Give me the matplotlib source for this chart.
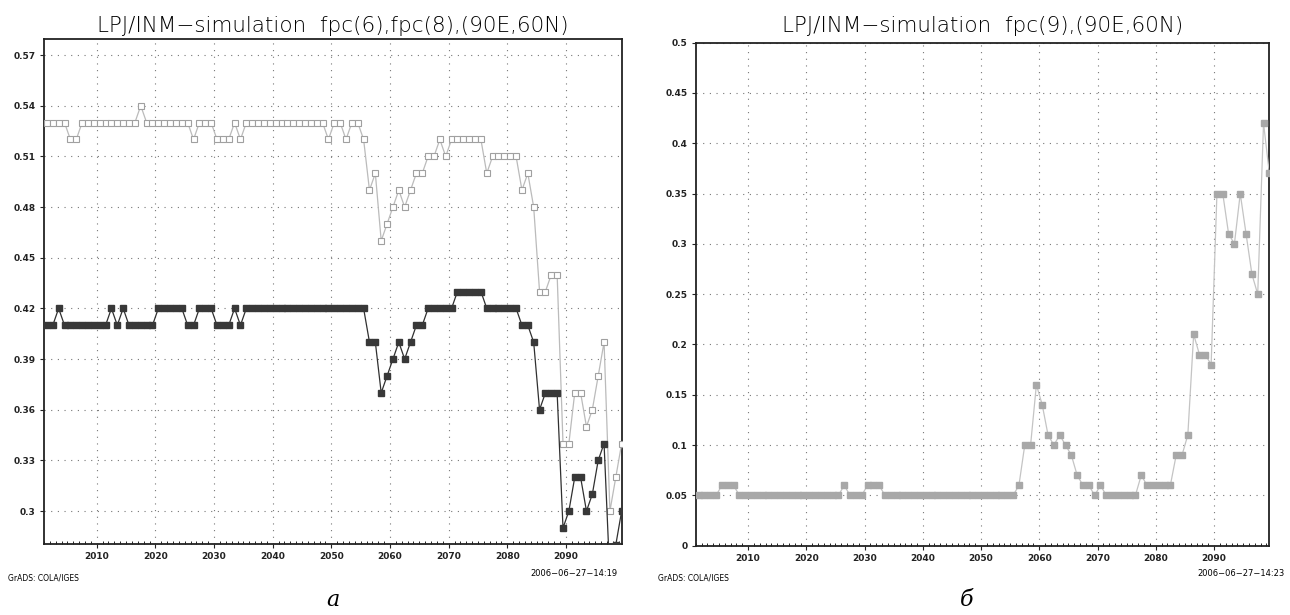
import numpy as np
import matplotlib
matplotlib.use("Agg")
import matplotlib.pyplot as plt

# years of the simulation (points are stamped at mid-year)
years = np.arange(2001, 2100)

# panel a: fpc(6) (open light squares) and fpc(8) (dark filled squares)
fpc6 = [0.53, 0.53, 0.53, 0.53, 0.52, 0.52, 0.53, 0.53, 0.53, 0.53,
        0.53, 0.53, 0.53, 0.53, 0.53, 0.53, 0.54, 0.53, 0.53, 0.53,
        0.53, 0.53, 0.53, 0.53, 0.53, 0.52, 0.53, 0.53, 0.53, 0.52,
        0.52, 0.52, 0.53, 0.52, 0.53, 0.53, 0.53, 0.53, 0.53, 0.53,
        0.53, 0.53, 0.53, 0.53, 0.53, 0.53, 0.53, 0.53, 0.52, 0.53,
        0.53, 0.52, 0.53, 0.53, 0.52, 0.49, 0.50, 0.46, 0.47, 0.48,
        0.49, 0.48, 0.49, 0.50, 0.50, 0.51, 0.51, 0.52, 0.51, 0.52,
        0.52, 0.52, 0.52, 0.52, 0.52, 0.50, 0.51, 0.51, 0.51, 0.51,
        0.51, 0.49, 0.50, 0.48, 0.43, 0.43, 0.44, 0.44, 0.34, 0.34,
        0.37, 0.37, 0.35, 0.36, 0.38, 0.40, 0.30, 0.32, 0.34]
fpc8 = [0.41, 0.41, 0.42, 0.41, 0.41, 0.41, 0.41, 0.41, 0.41, 0.41,
        0.41, 0.42, 0.41, 0.42, 0.41, 0.41, 0.41, 0.41, 0.41, 0.42,
        0.42, 0.42, 0.42, 0.42, 0.41, 0.41, 0.42, 0.42, 0.42, 0.41,
        0.41, 0.41, 0.42, 0.41, 0.42, 0.42, 0.42, 0.42, 0.42, 0.42,
        0.42, 0.42, 0.42, 0.42, 0.42, 0.42, 0.42, 0.42, 0.42, 0.42,
        0.42, 0.42, 0.42, 0.42, 0.42, 0.40, 0.40, 0.37, 0.38, 0.39,
        0.40, 0.39, 0.40, 0.41, 0.41, 0.42, 0.42, 0.42, 0.42, 0.42,
        0.43, 0.43, 0.43, 0.43, 0.43, 0.42, 0.42, 0.42, 0.42, 0.42,
        0.42, 0.41, 0.41, 0.40, 0.36, 0.37, 0.37, 0.37, 0.29, 0.30,
        0.32, 0.32, 0.30, 0.31, 0.33, 0.34, 0.26, 0.28, 0.30]

# panel b: fpc(9)
fpc9 = [0.05, 0.05, 0.05, 0.05, 0.06, 0.06, 0.06, 0.05, 0.05, 0.05,
        0.05, 0.05, 0.05, 0.05, 0.05, 0.05, 0.05, 0.05, 0.05, 0.05,
        0.05, 0.05, 0.05, 0.05, 0.05, 0.06, 0.05, 0.05, 0.05, 0.06,
        0.06, 0.06, 0.05, 0.05, 0.05, 0.05, 0.05, 0.05, 0.05, 0.05,
        0.05, 0.05, 0.05, 0.05, 0.05, 0.05, 0.05, 0.05, 0.05, 0.05,
        0.05, 0.05, 0.05, 0.05, 0.05, 0.06, 0.10, 0.10, 0.16, 0.14,
        0.11, 0.10, 0.11, 0.10, 0.09, 0.07, 0.06, 0.06, 0.05, 0.06,
        0.05, 0.05, 0.05, 0.05, 0.05, 0.05, 0.07, 0.06, 0.06, 0.06,
        0.06, 0.06, 0.09, 0.09, 0.11, 0.21, 0.19, 0.19, 0.18, 0.35,
        0.35, 0.31, 0.30, 0.35, 0.31, 0.27, 0.25, 0.42, 0.37]

xticks = [2010, 2020, 2030, 2040, 2050, 2060, 2070, 2080, 2090]
yticks_a = [0.3, 0.33, 0.36, 0.39, 0.42, 0.45, 0.48, 0.51, 0.54, 0.57]
ylabels_a = ["0.3", "0.33", "0.36", "0.39", "0.42", "0.45", "0.48", "0.51", "0.54", "0.57"]
yticks_b = [0, 0.05, 0.1, 0.15, 0.2, 0.25, 0.3, 0.35, 0.4, 0.45, 0.5]
ylabels_b = ["0", "0.05", "0.1", "0.15", "0.2", "0.25", "0.3", "0.35", "0.4", "0.45", "0.5"]

t = years + 0.5

fig = plt.figure(figsize=(12.9, 6.15), dpi=100)
ax_a = fig.add_axes([0.0341, 0.1154, 0.4478, 0.8212])
ax_b = fig.add_axes([0.5393, 0.1127, 0.4447, 0.8179])


def style_axes(ax, yticks, ylabels, ylim):
    ax.set_xlim(2001.4, 2099.5)
    ax.set_ylim(*ylim)
    ax.set_xticks(xticks)
    ax.set_xticklabels([str(x) for x in xticks], fontweight="bold")
    ax.set_yticks(yticks)
    ax.set_yticklabels(ylabels, fontweight="bold")
    ax.set_xticks(years, minor=True)
    ax.tick_params(axis="both", which="major", labelsize=6.5, length=3,
                   direction="out", pad=3, colors="#222222")
    ax.tick_params(axis="x", which="minor", length=2, direction="in")
    ax.grid(True, which="major", color="#777777", linestyle=(0, (1, 5)), linewidth=0.8)
    for s in ax.spines.values():
        s.set_linewidth(1.3)
        s.set_color("#222222")


style_axes(ax_a, yticks_a, ylabels_a, (0.2805, 0.5795))
ax_a.plot(t, fpc6, color="#bbbbbb", linewidth=0.9, marker="s", markersize=4.6,
          markerfacecolor="white", markeredgecolor="#a0a0a0", markeredgewidth=0.8, zorder=3)
ax_a.plot(t, fpc8, color="#303030", linewidth=0.9, marker="s", markersize=3.8,
          markerfacecolor="#383838", markeredgecolor="#383838", zorder=3)
ax_a.set_title("LPJ/INM\u2212simulation  fpc(6),fpc(8),(90E,60N)",
               fontsize=15.5, fontweight="light", pad=5)

style_axes(ax_b, yticks_b, ylabels_b, (0, 0.5))
ax_b.plot(t, fpc9, color="#c4c4c4", linewidth=0.9, marker="s", markersize=3.8,
          markerfacecolor="#a8a8a8", markeredgecolor="#a8a8a8", zorder=3)
ax_b.set_title("LPJ/INM\u2212simulation  fpc(9),(90E,60N)",
               fontsize=15.5, fontweight="light", pad=8)

# GrADS footers
fig.text(8 / 1290, 1 - 578 / 615, "GrADS: COLA/IGES", fontsize=5.5, va="center")
fig.text(618 / 1290, 1 - 574 / 615, "2006\u221206\u221227\u221214:19", fontsize=6,
         va="center", ha="right")
fig.text(658 / 1290, 1 - 578 / 615, "GrADS: COLA/IGES", fontsize=5.5, va="center")
fig.text(1285 / 1290, 1 - 574 / 615, "2006\u221206\u221227\u221214:23", fontsize=6,
         va="center", ha="right")

# panel letters
fig.text(333 / 1290, 1 - 600 / 615, "a", fontsize=16, style="italic",
         family="DejaVu Serif", ha="center", va="center")
fig.text(967 / 1290, 1 - 600 / 615, "б", fontsize=16, style="italic",
         family="DejaVu Serif", ha="center", va="center")

fig.savefig("out.png", dpi=100)
